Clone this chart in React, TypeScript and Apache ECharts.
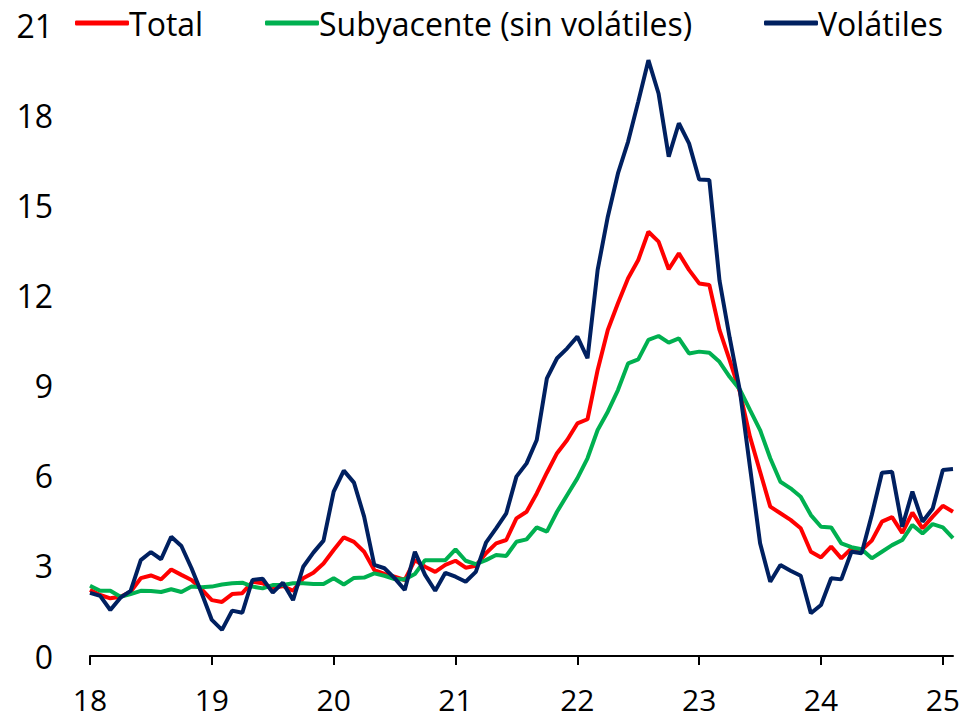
import React, { useEffect, useRef } from "react";
import * as echarts from "echarts";

const years = ["18", "19", "20", "21", "22", "23", "24", "25"];
const monthsInLastYear = 2;

const total = [
  2.2, 2.03, 1.92, 1.97, 2.14, 2.59, 2.68, 2.55, 2.88, 2.7, 2.53, 2.22,
  1.86, 1.8, 2.06, 2.09, 2.47, 2.42, 2.25, 2.33, 2.17, 2.59, 2.77, 3.08,
  3.53, 3.95, 3.8, 3.47, 2.86, 2.73, 2.64, 2.53, 3.19, 2.97, 2.8, 3.03,
  3.17, 2.94, 3.0, 3.42, 3.75, 3.86, 4.58, 4.8, 5.41, 6.1, 6.75, 7.19,
  7.74, 7.88, 9.52, 10.85, 11.74, 12.57, 13.18, 14.12, 13.79, 12.87, 13.4, 12.85,
  12.4, 12.35, 10.85, 9.85, 8.8, 7.3, 6.13, 4.97, 4.75, 4.53, 4.25, 3.47,
  3.28, 3.64, 3.25, 3.58, 3.53, 3.84, 4.47, 4.62, 4.1, 4.77, 4.25, 4.64,
  5.0, 4.8,
];

const subyacente = [
  2.34, 2.17, 2.17, 1.97, 2.06, 2.17, 2.16, 2.13, 2.22, 2.13, 2.31, 2.29,
  2.31, 2.38, 2.42, 2.44, 2.31, 2.25, 2.36, 2.36, 2.42, 2.42, 2.4, 2.4,
  2.59, 2.38, 2.6, 2.61, 2.75, 2.67, 2.56, 2.55, 2.73, 3.19, 3.19, 3.19,
  3.55, 3.17, 3.06, 3.19, 3.36, 3.33, 3.8, 3.88, 4.28, 4.14, 4.8, 5.36,
  5.91, 6.58, 7.52, 8.13, 8.85, 9.74, 9.87, 10.52, 10.65, 10.43, 10.57, 10.07,
  10.13, 10.09, 9.79, 9.29, 8.87, 8.19, 7.52, 6.58, 5.8, 5.58, 5.3, 4.69,
  4.3, 4.28, 3.75, 3.62, 3.55, 3.25, 3.47, 3.69, 3.86, 4.36, 4.08, 4.39,
  4.28, 3.92,
];

const volatiles = [
  2.1, 2.0, 1.53, 1.94, 2.17, 3.19, 3.46, 3.22, 3.97, 3.66, 2.92, 2.09,
  1.2, 0.87, 1.51, 1.44, 2.53, 2.57, 2.11, 2.44, 1.86, 2.97, 3.44, 3.84,
  5.47, 6.17, 5.77, 4.64, 3.03, 2.92, 2.59, 2.2, 3.47, 2.7, 2.17, 2.77,
  2.64, 2.47, 2.8, 3.77, 4.25, 4.75, 5.97, 6.41, 7.19, 9.24, 9.91, 10.24,
  10.63, 9.91, 12.85, 14.62, 16.06, 17.12, 18.45, 19.83, 18.72, 16.62, 17.73, 17.06,
  15.86, 15.84, 12.5, 10.6, 8.85, 6.3, 3.75, 2.47, 3.03, 2.84, 2.67, 1.42,
  1.7, 2.59, 2.55, 3.47, 3.42, 4.69, 6.1, 6.13, 4.3, 5.47, 4.47, 4.91,
  6.19, 6.22,
];

const seriesNames = ["Total", "Subyacente (sin volátiles)", "Volátiles"];
const seriesColors = ["#FF0000", "#00B050", "#002060"];
const legendLefts = [70, 260, 759];

// monthly categories: "18-01" ... "25-02"
const categories: string[] = [];
years.forEach((y, yi) => {
  const n = yi === years.length - 1 ? monthsInLastYear : 12;
  for (let m = 1; m <= n; m++) categories.push(`${y}-${String(m).padStart(2, "0")}`);
});

const FONT = "'Open Sans', Lato, sans-serif";

export default function App() {
  const ref = useRef<HTMLDivElement>(null);
  useEffect(() => {
    if (!ref.current) return;
    const chart = echarts.init(ref.current, undefined, { renderer: "svg" });
    const datasets = [total, subyacente, volatiles];
    chart.setOption({
      animation: false,
      backgroundColor: "#ffffff",
      textStyle: { fontFamily: FONT },
      legend: seriesNames.map((name, i) => ({
        left: legendLefts[i],
        top: 2,
        itemWidth: 54,
        itemHeight: 5,
        icon: "roundRect",
        textStyle: { fontSize: 32, color: "#000", fontFamily: FONT, padding: [0, 0, 0, -5] },
        data: [name],
      })),
      grid: { left: 90, right: 11, top: 25, bottom: 63, containLabel: false },
      xAxis: {
        type: "category",
        data: categories,
        boundaryGap: false,
        axisLine: { show: true, lineStyle: { color: "#000", width: 2 } },
        axisTick: {
          show: true,
          length: 9,
          lineStyle: { color: "#000", width: 2 },
          interval: (idx: number) => idx % 12 === 0,
        },
        axisLabel: {
          interval: (idx: number) => idx % 12 === 0,
          formatter: (v: string) => v.split("-")[0],
          fontSize: 30,
          lineHeight: 30,
          color: "#000",
          margin: 28,
          fontFamily: FONT,
        },
        splitLine: { show: false },
      },
      yAxis: {
        type: "value",
        min: 0,
        max: 21,
        interval: 3,
        axisLine: { show: false },
        axisTick: { show: false },
        splitLine: { show: false },
        axisLabel: { fontSize: 32, color: "#000", margin: 37, fontFamily: FONT },
      },
      series: seriesNames.map((name, i) => ({
        name,
        type: "line",
        data: datasets[i],
        showSymbol: false,
        symbol: "none",
        lineStyle: { color: seriesColors[i], width: 4 },
        itemStyle: { color: seriesColors[i] },
        z: 3 + i,
      })),
    });
    return () => chart.dispose();
  }, []);
  return <div ref={ref} style={{ width: 964, height: 719, position: "absolute", left: 0, top: 0 }} />;
}
